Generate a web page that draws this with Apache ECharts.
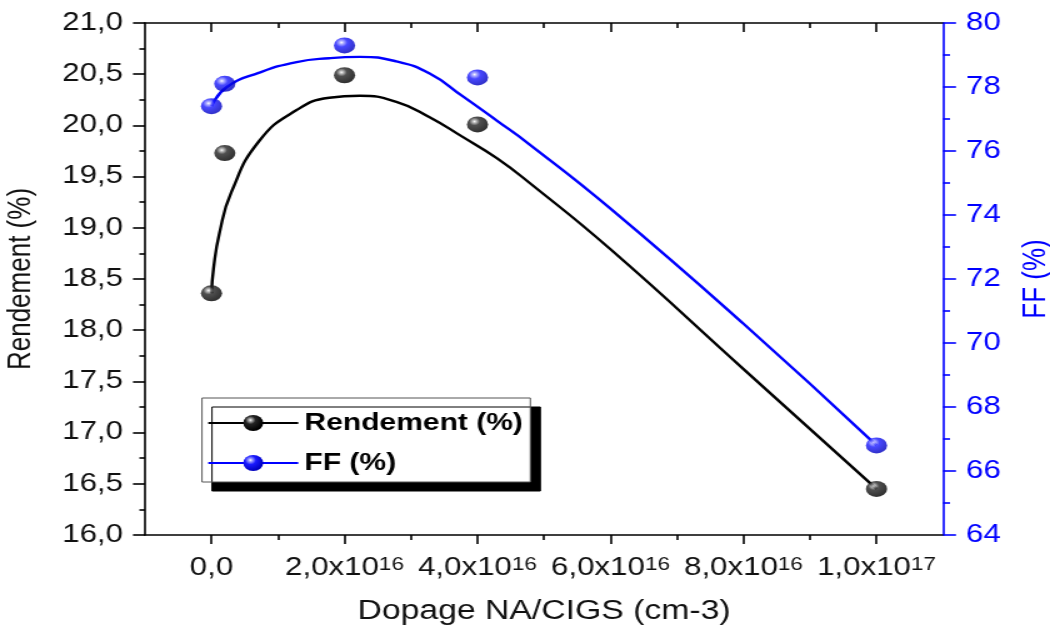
<!DOCTYPE html>
<html>
<head>
<meta charset="utf-8">
<script src="https://cdn.jsdelivr.net/npm/echarts@6/dist/echarts.min.js"></script>
<style>
  html, body { margin: 0; padding: 0; background: #fff; }
  #wrap { width: 1050px; height: 630px; overflow: hidden; position: relative; }
  /* the chart is laid out on a narrower canvas and widened horizontally */
  #chart { width: 840px; height: 630px; transform: scaleX(1.25); transform-origin: 0 0; }
</style>
</head>
<body>
<div id="wrap"><div id="chart"></div></div>
<script>
// Na doping of the CIGS layer (cm-3) and measured cell parameters
const dopage = [0, 0.2e16, 2e16, 4e16, 1e17];
const rendement = [18.36, 19.73, 20.49, 20.01, 16.45];
const ff = [77.4, 78.1, 79.3, 78.3, 66.8];

// fitted trend curves
const rendementFitX = [0, 0.03e16, 0.12e16, 0.3e16, 0.72e16, 1.28e16, 1.77e16, 2.23e16, 2.78e16, 3.28e16, 3.77e16, 4.29e16, 4.78e16, 6e16, 8e16, 1e17];
const rendementFitY = [18.36, 18.6, 18.95, 19.35, 19.85, 20.15, 20.27, 20.29, 20.23, 20.08, 19.89, 19.68, 19.44, 18.79, 17.62, 16.45];
const ffFitX = [0, 0.23e16, 0.72e16, 1.28e16, 1.77e16, 2.23e16, 2.78e16, 3.28e16, 3.77e16, 4.29e16, 4.78e16, 6e16, 8e16, 1e17];
const ffFitY = [77.4, 78.0, 78.45, 78.78, 78.9, 78.94, 78.8, 78.42, 77.72, 76.95, 76.21, 74.2, 70.6, 66.8];

const FONT = '"Liberation Sans", Arial, sans-serif';
const BLUE = '#0000ff';

function zip(xs, ys) { return xs.map((x, i) => [x, ys[i]]); }

function sphere(stops) {
  return new echarts.graphic.RadialGradient(0.36, 0.32, 0.66,
    stops.map(s => ({ offset: s[0], color: s[1] })));
}
const blackBall = sphere([[0, '#ffffff'], [0.12, '#b0b0b0'], [0.38, '#242424'], [1, '#000000']]);
const blueBall = sphere([[0, '#ffffff'], [0.14, '#a0a0ff'], [0.42, '#1a1aff'], [1, '#0000c0']]);

function decimalComma(v, d) { return v.toFixed(d).replace('.', ','); }

function sciLabel(v) {
  if (v === 0) return '{m|0,0}';
  const e = Math.floor(Math.log10(v) + 1e-9);
  const m = v / Math.pow(10, e);
  return '{m|' + decimalComma(m, 1) + 'x10}{s|' + e + '}';
}

const chart = echarts.init(document.getElementById('chart'), null, { renderer: 'canvas' });
chart.setOption({
  animation: false,
  backgroundColor: '#fff',
  grid: [
    { left: 116, right: 85.6, top: 23, bottom: 95, containLabel: false, outerBoundsMode: 'none' },
    { left: 169.2, right: 138.8, top: 23, bottom: 95, containLabel: false, outerBoundsMode: 'none' }
  ],
  legend: {
    data: ['Rendement (%)', 'FF (%)'],
    orient: 'vertical',
    left: 161.6,
    top: 398,
    itemWidth: 72,
    itemHeight: 20,
    itemGap: 16,
    padding: [13, 6, 7, 4],
    backgroundColor: '#fff',
    borderColor: '#555',
    borderWidth: 1,
    shadowColor: '#000',
    shadowBlur: 0,
    shadowOffsetX: 8,
    shadowOffsetY: 9,
    selectedMode: false,
    textStyle: { fontFamily: FONT, fontSize: 24, fontWeight: 'bold', color: '#000' }
  },
  xAxis: [
    {
      gridIndex: 0, type: 'value', position: 'bottom', min: -1e16, max: 1.1e17,
      axisLine: { onZero: false, lineStyle: { color: '#000', width: 1.6 } },
      axisTick: { show: false }, axisLabel: { show: false }, splitLine: { show: false }
    },
    {
      gridIndex: 0, type: 'value', position: 'top', min: -1e16, max: 1.1e17,
      axisLine: { onZero: false, lineStyle: { color: '#000', width: 1.6 } },
      axisTick: { show: false }, axisLabel: { show: false }, splitLine: { show: false }
    },
    {
      gridIndex: 1, type: 'value', position: 'bottom', min: 0, max: 1e17, interval: 2e16,
      axisLine: { show: false, onZero: false },
      axisTick: { show: true, inside: false, length: 9, lineStyle: { color: '#000', width: 1.6 } },
      minorTick: { show: true, splitNumber: 2, length: 5, lineStyle: { color: '#000', width: 1.6 } },
      splitLine: { show: false },
      axisLabel: {
        margin: 21,
        formatter: sciLabel,
        rich: {
          m: { fontFamily: FONT, fontSize: 25, color: '#111' },
          s: { fontFamily: FONT, fontSize: 18, color: '#111', verticalAlign: 'top' }
        }
      },
      name: 'Dopage NA/CIGS (cm-3)',
      nameLocation: 'middle',
      nameGap: 63,
      nameTextStyle: { fontFamily: FONT, fontSize: 27, color: '#111' }
    },
    {
      gridIndex: 1, type: 'value', position: 'top', min: 0, max: 1e17, interval: 2e16,
      axisLine: { show: false, onZero: false },
      axisTick: { show: true, inside: true, length: 9, lineStyle: { color: '#000', width: 1.6 } },
      minorTick: { show: true, splitNumber: 2, length: 5, lineStyle: { color: '#000', width: 1.6 } },
      splitLine: { show: false },
      axisLabel: { show: false }
    }
  ],
  yAxis: [
    {
      gridIndex: 0, type: 'value', position: 'left', min: 16, max: 21, interval: 0.5,
      axisLine: { show: true, onZero: false, lineStyle: { color: '#000', width: 1.6 } },
      axisTick: { show: true, inside: false, length: 9.6, lineStyle: { color: '#000', width: 1.6 } },
      minorTick: { show: true, splitNumber: 2, length: 4.5, lineStyle: { color: '#000', width: 1.6 } },
      splitLine: { show: false },
      axisLabel: { margin: 17.6, formatter: v => decimalComma(v, 1), fontFamily: FONT, fontSize: 25, color: '#111' },
      name: 'Rendement (%)',
      nameLocation: 'middle',
      nameGap: 86,
      nameTextStyle: { fontFamily: FONT, fontSize: 26, color: '#111' }
    },
    {
      gridIndex: 0, type: 'value', position: 'right', min: 64, max: 80, interval: 2,
      axisLine: { show: true, onZero: false, lineStyle: { color: BLUE, width: 1.6 } },
      axisTick: { show: true, inside: false, length: 10.4, lineStyle: { color: BLUE, width: 1.6 } },
      minorTick: { show: true, splitNumber: 2, length: 5.6, lineStyle: { color: BLUE, width: 1.6 } },
      splitLine: { show: false },
      axisLabel: { margin: 18.4, fontFamily: FONT, fontSize: 25, color: BLUE },
      name: 'FF (%)',
      nameLocation: 'middle',
      nameGap: 61.6,
      nameTextStyle: { fontFamily: FONT, fontSize: 26, color: BLUE }
    },
    { gridIndex: 1, type: 'value', show: false, min: 0, max: 1, axisLine: { onZero: false } }
  ],
  series: [
    {
      name: 'Rendement (%)', type: 'line', xAxisIndex: 0, yAxisIndex: 0,
      data: zip(rendementFitX, rendementFitY),
      smooth: 0.5, symbol: 'none', z: 2,
      lineStyle: { color: '#000', width: 2.4 },
      itemStyle: { color: blackBall }
    },
    {
      name: 'FF (%)', type: 'line', xAxisIndex: 0, yAxisIndex: 1,
      data: zip(ffFitX, ffFitY),
      smooth: 0.5, symbol: 'none', z: 2,
      lineStyle: { color: BLUE, width: 2.4 },
      itemStyle: { color: blueBall }
    },
    {
      name: 'Rendement mesuré', type: 'scatter', xAxisIndex: 0, yAxisIndex: 0,
      data: zip(dopage, rendement),
      symbol: 'circle', symbolSize: [17, 16], z: 4,
      itemStyle: { color: blackBall }
    },
    {
      name: 'FF mesuré', type: 'scatter', xAxisIndex: 0, yAxisIndex: 1,
      data: zip(dopage, ff),
      symbol: 'circle', symbolSize: [17, 16], z: 4,
      itemStyle: { color: blueBall }
    }
  ]
});
</script>
</body>
</html>
